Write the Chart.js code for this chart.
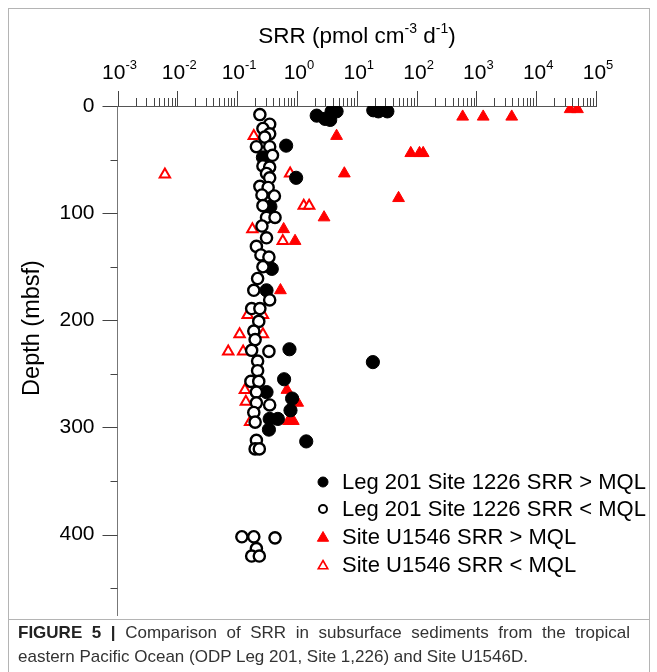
<!DOCTYPE html>
<html>
<head>
<meta charset="utf-8">
<script src="https://cdn.jsdelivr.net/npm/chart.js@4.4.1/dist/chart.umd.min.js"></script>
<style>
  html, body { margin: 0; padding: 0; background: #fff; }
  body { width: 657px; height: 672px; position: relative; overflow: hidden; font-family: "Liberation Sans", Arial, sans-serif; }
  #frame { position: absolute; left: 8px; top: 8px; width: 642px; height: 670px; border: 1px solid #b4b4b4; box-sizing: border-box; }
  #divider { position: absolute; left: 8px; top: 619px; width: 642px; height: 1px; background: #b4b4b4; }
  #wrap { position: absolute; left: 0; top: 0; width: 657px; height: 623px; }
  .cap { position: absolute; left: 18px; width: 612px; font-size: 17px; line-height: 24px; color: #333; white-space: nowrap; }
  #cap1 { top: 621px; text-align: justify; text-align-last: justify; white-space: normal; }
  #cap2 { top: 645px; }
  .cap b { color: #222; }
</style>
</head>
<body>
<div id="frame"></div>
<div id="divider"></div>
<div id="wrap"><canvas id="chart"></canvas></div>
<div class="cap" id="cap1"><b>FIGURE 5 |</b> Comparison of SRR in subsurface sediments from the tropical</div>
<div class="cap" id="cap2">eastern Pacific Ocean (ODP Leg 201, Site 1,226) and Site U1546D.</div>
<script>
// Leg 201 Site 1226, SRR > MQL (filled circles)
const legFilledSRR   = [3.8, 4.6, 18.9, 23, 32.5, 2.14, 2.95, 3.6, 0.66, 0.27, 0.97, 0.36, 0.38, 0.31, 0.75, 18.6, 0.61, 0.31, 0.83, 0.78, 0.35, 0.48, 0.34, 1.43];
const legFilledDepth = [5, 5, 4, 5, 5, 9, 12, 13, 37, 48, 67, 94, 152, 172, 227, 239, 255, 267, 273, 284, 292, 292, 302, 313];

// Leg 201 Site 1226, SRR < MQL (open circles)
const legOpenSRR   = [0.24, 0.35, 0.27, 0.35, 0.29, 0.21, 0.35, 0.39, 0.27, 0.35, 0.31, 0.35, 0.24, 0.33, 0.26, 0.42, 0.27, 0.31, 0.43, 0.26,
                      0.31, 0.21, 0.25, 0.34, 0.27, 0.22, 0.19, 0.35, 0.175, 0.24, 0.23, 0.19, 0.2, 0.175, 0.34, 0.22, 0.22, 0.17, 0.23, 0.21,
                      0.21, 0.35, 0.19, 0.2, 0.21, 0.2, 0.235, 0.12, 0.19, 0.43, 0.21, 0.175, 0.235];
const legOpenDepth = [8, 17, 21, 26, 29, 38, 38, 46, 56, 57, 63, 67, 75, 76, 83, 84, 93, 104, 104, 112,
                      123, 131, 139, 141, 150, 161, 172, 181, 189, 189, 201, 210, 218, 228, 229, 238, 247, 257, 257, 267,
                      277, 279, 286, 295, 312, 320, 320, 402, 402, 403, 413, 420, 420];

// Site U1546, SRR > MQL (filled triangles)
const siteFilledSRR   = [590, 1300, 3900, 37000, 49000, 4.6, 80, 112, 129, 6.2, 50, 2.84, 0.6, 0.93, 0.53, 0.68, 1.03, 0.72, 0.87];
const siteFilledDepth = [10, 10, 10, 3, 3, 28, 44, 44, 44, 63, 86, 104, 115, 126, 172, 265, 277, 294, 294];

// Site U1546, SRR < MQL (open triangles)
const siteOpenSRR   = [0.19, 0.0062, 0.77, 1.3, 1.6, 0.18, 0.58, 0.15, 0.27, 0.11, 0.27, 0.071, 0.126, 0.135, 0.14, 0.165];
const siteOpenDepth = [28, 64, 63, 93, 93, 115, 126, 195, 195, 213, 213, 229, 229, 265, 276, 295];

// axis ticks
const xTickExps   = [-3, -2, -1, 0, 1, 2, 3, 4, 5];
const yTickLabels = [0, 100, 200, 300, 400];
const yMinorTicks = [50, 150, 250, 350, 450];

const legendLabels = [
  'Leg 201 Site 1226 SRR > MQL',
  'Leg 201 Site 1226 SRR < MQL',
  'Site U1546 SRR > MQL',
  'Site U1546 SRR < MQL'
];

const toPoints = (xs, ys) => xs.map((v, i) => ({ x: v, y: ys[i] }));

const FONT = '"Liberation Sans", Arial, sans-serif';

// draws text with superscript parts, centred on cx
function drawRich(ctx, parts, cx, cy, size, supSize, lift) {
  let w = 0;
  parts.forEach(p => {
    ctx.font = (p.sup ? supSize : size) + 'px ' + FONT;
    p.w = ctx.measureText(p.t).width;
    w += p.w;
  });
  let x = cx - w / 2;
  ctx.textAlign = 'left';
  ctx.textBaseline = 'middle';
  parts.forEach(p => {
    ctx.font = (p.sup ? supSize : size) + 'px ' + FONT;
    ctx.fillText(p.t, x, p.sup ? cy - lift : cy);
    x += p.w;
  });
}

const decorPlugin = {
  id: 'decor',
  afterDraw(chart) {
    const { ctx, chartArea } = chart;
    const x = chart.scales.x, y = chart.scales.y;
    const top = chartArea.top, left = chartArea.left;
    ctx.save();
    ctx.strokeStyle = '#444';
    ctx.lineWidth = 1;
    ctx.beginPath();
    // top log ticks
    xTickExps.forEach(e => {
      const px = Math.round(x.getPixelForValue(Math.pow(10, e))) + 0.5;
      ctx.moveTo(px, top); ctx.lineTo(px, top - 15);
      if (e < 5) {
        for (let m = 2; m <= 9; m++) {
          const mx = Math.round(x.getPixelForValue(m * Math.pow(10, e))) + 0.5;
          ctx.moveTo(mx, top); ctx.lineTo(mx, top - 8);
        }
      }
    });
    // left depth ticks
    yTickLabels.forEach(v => {
      const py = Math.round(y.getPixelForValue(v)) + 0.5;
      ctx.moveTo(left, py); ctx.lineTo(left - 15, py);
    });
    yMinorTicks.forEach(v => {
      const py = Math.round(y.getPixelForValue(v)) + 0.5;
      ctx.moveTo(left, py); ctx.lineTo(left - 7, py);
    });
    ctx.stroke();

    // top tick labels 10^n
    ctx.fillStyle = '#000';
    xTickExps.forEach(e => {
      const px = x.getPixelForValue(Math.pow(10, e));
      drawRich(ctx, [{ t: '10' }, { t: String(e), sup: true }], px + 2, 73, 21, 13, 8);
    });

    // axis titles
    drawRich(ctx, [
      { t: 'SRR (pmol cm' }, { t: '-3', sup: true }, { t: ' d' }, { t: '-1', sup: true }, { t: ')' }
    ], 357, 37, 22.5, 14, 8);

    ctx.save();
    ctx.translate(33, 328);
    ctx.rotate(-Math.PI / 2);
    ctx.font = '23.5px ' + FONT;
    ctx.textAlign = 'center';
    ctx.textBaseline = 'middle';
    ctx.fillText('Depth (mbsf)', 0, 0);
    ctx.restore();

    // legend
    const rows = [482, 509, 537, 565];
    const h = Chart.helpers;
    const markers = [
      { pointStyle: 'circle', radius: 5, borderWidth: 1, fill: '#000', stroke: '#000' },
      { pointStyle: 'circle', radius: 4, borderWidth: 2, fill: '#fff', stroke: '#000' },
      { pointStyle: 'triangle', radius: 6.5, borderWidth: 1, fill: '#ff0000', stroke: '#ff0000' },
      { pointStyle: 'triangle', radius: 5.5, borderWidth: 1.6, fill: '#fff', stroke: '#ff0000' }
    ];
    legendLabels.forEach((txt, i) => {
      const mk = markers[i];
      ctx.fillStyle = mk.fill;
      ctx.strokeStyle = mk.stroke;
      ctx.lineWidth = mk.borderWidth;
      h.drawPoint(ctx, { pointStyle: mk.pointStyle, radius: mk.radius, borderWidth: mk.borderWidth, rotation: 0 }, 323, rows[i] + (mk.pointStyle === 'triangle' ? 1 : 0));
      ctx.fillStyle = '#000';
      ctx.font = '22px ' + FONT;
      ctx.textAlign = 'left';
      ctx.textBaseline = 'middle';
      ctx.fillText(txt, 342, rows[i] + 1);
    });
    ctx.restore();
  }
};

new Chart(document.getElementById('chart'), {
  type: 'scatter',
  data: {
    datasets: [
      {
        label: legendLabels[1],
        data: toPoints(legOpenSRR, legOpenDepth),
        pointStyle: 'circle',
        radius: 5.6,
        borderWidth: 2.4,
        borderColor: '#000',
        backgroundColor: '#fff'
      },
      {
        label: legendLabels[0],
        data: toPoints(legFilledSRR, legFilledDepth),
        pointStyle: 'circle',
        radius: 6.6,
        borderWidth: 1,
        borderColor: '#000',
        backgroundColor: '#000'
      },
      {
        label: legendLabels[3],
        data: toPoints(siteOpenSRR, siteOpenDepth),
        pointStyle: 'triangle',
        radius: 6,
        borderWidth: 2,
        borderColor: '#ff0000',
        backgroundColor: '#fff'
      },
      {
        label: legendLabels[2],
        data: toPoints(siteFilledSRR, siteFilledDepth),
        pointStyle: 'triangle',
        radius: 6.8,
        borderWidth: 1,
        borderColor: '#ff0000',
        backgroundColor: '#ff0000'
      }
    ]
  },
  options: {
    responsive: true,
    maintainAspectRatio: false,
    animation: false,
    events: [],
    layout: { padding: { left: 0, right: 61, top: 0, bottom: 0 } },
    plugins: {
      legend: { display: false },
      tooltip: { enabled: false },
      title: { display: false }
    },
    scales: {
      x: {
        type: 'logarithmic',
        position: 'top',
        min: 0.001,
        max: 100000,
        grid: { display: false },
        border: { display: true, color: '#555', width: 1 },
        ticks: { display: false },
        afterFit: scale => { scale.height = 106; scale.paddingLeft = 0; scale.paddingRight = 0; }
      },
      y: {
        type: 'linear',
        reverse: true,
        min: 0,
        max: 475,
        grid: { display: false },
        border: { display: true, color: '#777', width: 1 },
        afterBuildTicks: scale => { scale.ticks = yTickLabels.map(v => ({ value: v })); },
        ticks: {
          color: '#000',
          padding: 15,
          font: { family: FONT, size: 21 }
        },
        afterFit: scale => { scale.width = 117.5; scale.paddingTop = 0; scale.paddingBottom = 0; }
      }
    }
  },
  plugins: [decorPlugin]
});
</script>
</body>
</html>
